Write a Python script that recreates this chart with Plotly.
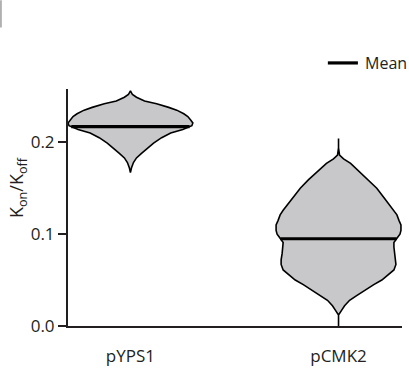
import numpy as np
import plotly.graph_objects as go

categories = ["pYPS1", "pCMK2"]
means = [0.217, 0.095]

# density profiles (value, relative half-width)
v1_y = [0.167, 0.172, 0.178, 0.183, 0.188, 0.194, 0.199, 0.205, 0.210, 0.214, 0.218,
        0.221, 0.224, 0.228, 0.231, 0.235, 0.238, 0.242, 0.245, 0.249, 0.252, 0.256]
v1_w = [0, 1, 3, 6, 11, 17, 23, 31, 40, 52, 61, 62, 60, 57, 53, 46, 38, 26, 14, 6, 2, 0]

v2_y = [0.000, 0.012, 0.017, 0.022, 0.028, 0.033, 0.039, 0.045, 0.050, 0.056, 0.061,
        0.067, 0.072, 0.079, 0.086, 0.091, 0.0955, 0.100, 0.104, 0.110, 0.115, 0.121,
        0.126, 0.133, 0.140, 0.150, 0.159, 0.168, 0.177, 0.182, 0.186, 0.194, 0.204]
v2_w = [0, 0, 3, 6, 11, 18, 26, 35, 43, 50, 55, 57, 57, 56, 55, 55, 58, 61, 62, 62, 60, 58,
        55, 50, 45, 38, 30, 21, 12, 5, 1, 0, 0]

yticks = [0.0, 0.1, 0.2]
ytick_text = ["0.0", "0.1", "0.2"]

profiles = [(v1_y, v1_w), (v2_y, v2_w)]
WSCALE = 0.30 / 62.0
INK = "#231f20"
FONT = "Open Sans"

fig = go.Figure()
for i, (py, pw) in enumerate(profiles):
    py = np.array(py)
    pw = np.array(pw) * WSCALE
    xs = np.concatenate([i - pw, (i + pw)[::-1]])
    ys = np.concatenate([py, py[::-1]])
    fig.add_trace(go.Scatter(x=xs, y=ys, mode="lines", fill="toself",
                             fillcolor="#c8c8ca", line=dict(color="black", width=1.6),
                             showlegend=False, hoverinfo="skip"))
for i, m in enumerate(means):
    py, pw = profiles[i]
    hw = np.interp(m, py, np.array(pw) * WSCALE)
    fig.add_trace(go.Scatter(x=[i - hw, i + hw], y=[m, m], mode="lines",
                             line=dict(color="black", width=3.2), name="Mean",
                             showlegend=False))

fig.update_layout(
    width=409, height=370,
    margin=dict(l=68, r=7, t=89, b=44, autoexpand=False),
    plot_bgcolor="white", paper_bgcolor="white",
    font=dict(family=FONT, size=17, color=INK),
    showlegend=False,
    xaxis=dict(range=[-0.30, 1.305], tickvals=[0, 1], ticktext=categories,
               showline=True, linecolor=INK, linewidth=2, ticks="",
               showgrid=False, zeroline=False, ticklabelstandoff=14,
               tickfont=dict(size=17), automargin=False),
    yaxis=dict(range=[0, 0.258], tickvals=yticks, ticktext=ytick_text,
               showline=True, linecolor=INK, linewidth=2, ticks="outside",
               ticklen=8, tickwidth=2, tickcolor=INK, showgrid=False,
               zeroline=False, tickfont=dict(size=17), automargin=False),
    annotations=[
        dict(text="K<sub>on</sub>/K<sub>off</sub>", textangle=-90,
             xref="paper", yref="paper", x=-0.197, y=0.585,
             showarrow=False, font=dict(size=18)),
        dict(text="Mean", xref="paper", yref="paper", x=0.883, y=1.11,
             xanchor="left", yanchor="middle", showarrow=False, font=dict(size=16)),
    ],
    shapes=[
        dict(type="rect", xref="paper", yref="paper", x0=-0.204, x1=-0.198,
             y0=1.375, y1=1.26, line=dict(width=0), fillcolor="#b0b0b0"),
        dict(type="line", xref="paper", yref="paper", x0=0.778, x1=0.868,
             y0=1.11, y1=1.11, line=dict(color="black", width=3.2)),
    ],
)

fig.write_html("out.html")
